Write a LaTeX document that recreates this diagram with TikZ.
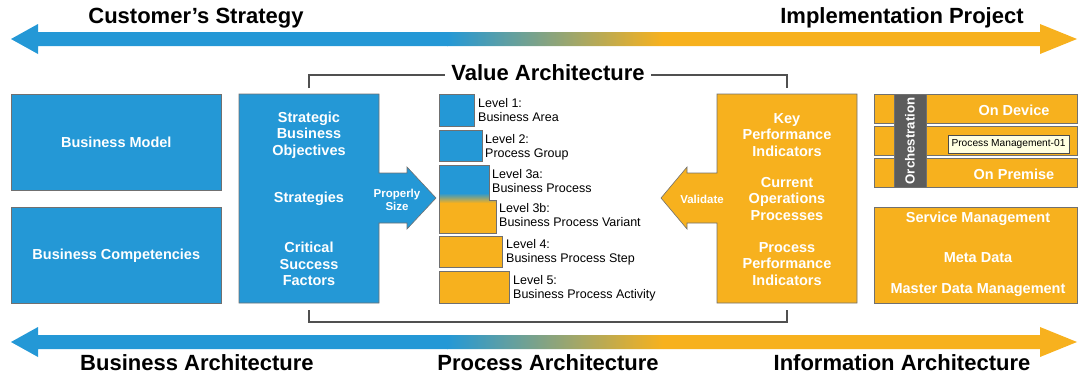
\documentclass[tikz,border=0pt]{standalone}
\usepackage{fontspec}
\setmainfont{Liberation Sans}
\definecolor{cblue}{HTML}{2498D6}
\definecolor{corange}{HTML}{F7B11E}
\definecolor{cedge}{HTML}{707070}
\definecolor{cgray}{HTML}{5C5C5C}
\definecolor{cline}{HTML}{505050}
\definecolor{ctip}{HTML}{FFFFE1}
\begin{document}
\begin{tikzpicture}[x=1pt,y=-1pt,
  bbox/.style={draw=cedge, line width=0.6pt, fill=cblue, text=white,
    font=\bfseries\fontsize{14.5}{16.5}\selectfont, align=center, inner sep=0pt, anchor=north west},
  obox/.style={bbox, fill=corange},
  wtxt/.style={text=white, font=\bfseries\fontsize{14.5}{16.5}\selectfont, align=center, inner sep=0pt},
  stxt/.style={text=white, font=\bfseries\fontsize{11.5}{13}\selectfont, align=center, inner sep=0pt},
  lvlbox/.style={draw=cedge, line width=0.6pt, inner sep=0pt, anchor=north west},
  lvl/.style={font=\fontsize{12.5}{14}\selectfont, align=left, anchor=north west, inner sep=0pt},
  big/.style={font=\bfseries\fontsize{22}{24}\selectfont, inner sep=0pt},
  bracket/.style={draw=cline, line width=1.2pt}
]
\useasboundingbox (0,0) rectangle (1078,375);

% ---------- top gradient arrow ----------
\begin{scope}
\clip (11,39) -- (38,24) -- (38,32) -- (1040,32) -- (1040,24) -- (1077,39)
      -- (1040,54) -- (1040,46) -- (38,46) -- (38,54) -- cycle;
\fill[cblue] (0,15) rectangle (447.5,60);
\shade[left color=cblue, right color=corange] (447,15) rectangle (663,60);
\fill[corange] (662.5,15) rectangle (1078,60);
\end{scope}
\node[big] (cs) at (196,18) {Customer’s Strategy};
\node[big] (ip) at (902,18) {Implementation Project};

% ---------- bottom gradient arrow ----------
\begin{scope}
\clip (11,342) -- (38,327) -- (38,335) -- (1040,335) -- (1040,327) -- (1077,342)
      -- (1040,357) -- (1040,349) -- (38,349) -- (38,357) -- cycle;
\fill[cblue] (0,320) rectangle (447.5,360);
\shade[left color=cblue, right color=corange] (447,320) rectangle (663,360);
\fill[corange] (662.5,320) rectangle (1078,360);
\end{scope}
\node[big] (ba) at (197,363) {Business Architecture};
\node[big] (pa) at (548,363) {Process Architecture};
\node[big] (ia) at (902,363) {Information Architecture};

% ---------- value architecture brackets ----------
\coordinate (tl) at (309,88);
\coordinate (tr) at (787,88);
\coordinate (bl) at (309,310);
\coordinate (br) at (787,310);
\draw[bracket] (tl) -- (309,75) -- (787,75) -- (tr);
\draw[bracket] (bl) -- (309,322) -- (787,322) -- (br);
\node[big, fill=white, inner xsep=6pt, inner ysep=2pt] (va) at (548,73) {Value Architecture};

% ---------- left boxes ----------
\node[bbox, minimum width=210pt, minimum height=96pt] (bm) at (11,94) {Business Model};
\node[bbox, minimum width=210pt, minimum height=96pt] (bc) at (11,207) {Business Competencies};

% strategic box with arrow
\path[draw=cedge, line width=0.6pt, fill=cblue]
  (239,94) -- (379,94) -- (379,173) -- (407,173) -- (407,167) -- (436,198)
  -- (407,229) -- (407,223) -- (379,223) -- (379,303) -- (239,303) -- cycle;
\node[wtxt] (sbo) at (309,135) {Strategic\\Business\\Objectives};
\node[wtxt] (str) at (309,199) {Strategies};
\node[wtxt] (csf) at (309,264) {Critical\\Success\\Factors};
\node[stxt] (ps) at (397,200) {Properly\\Size};

% ---------- levels ----------
\node[lvlbox, fill=cblue, minimum width=35pt, minimum height=32pt] (l1) at (439,94) {};
\node[lvlbox, fill=cblue, minimum width=43pt, minimum height=31pt] (l2) at (439,130) {};
\begin{scope}
\clip (439,165) -- (489,165) -- (489,200) -- (496,200) -- (496,233) -- (439,233) -- cycle;
\fill[cblue] (430,160) rectangle (500,193.5);
\shade[top color=cblue, bottom color=corange] (430,193) rectangle (500,203);
\fill[corange] (430,202.5) rectangle (500,240);
\end{scope}
\draw[draw=cedge, line width=0.6pt]
  (439,165) -- (489,165) -- (489,200) -- (496,200) -- (496,233) -- (439,233) -- cycle;
\node[lvlbox, fill=corange, minimum width=63pt, minimum height=31pt] (l4) at (439,236) {};
\node[lvlbox, fill=corange, minimum width=70pt, minimum height=32pt] (l5) at (439,271) {};

\node[lvl] (t1) at (478,98) {Level 1:\\Business Area};
\node[lvl] (t2) at (485,134) {Level 2:\\Process Group};
\node[lvl] (t3a) at (492,169) {Level 3a:\\Business Process};
\node[lvl] (t3b) at (499,203) {Level 3b:\\Business Process Variant};
\node[lvl] (t4) at (506,239) {Level 4:\\Business Process Step};
\node[lvl] (t5) at (513,275) {Level 5:\\Business Process Activity};

% ---------- KPI box with validate arrow ----------
\path[draw=cedge, line width=0.6pt, fill=corange]
  (717,94) -- (857,94) -- (857,303) -- (717,303) -- (717,223) -- (687,223)
  -- (687,229) -- (661,198) -- (687,167) -- (687,173) -- (717,173) -- cycle;
\node[wtxt] (kpi) at (787,135) {Key\\Performance\\Indicators};
\node[wtxt] (cop) at (787,199) {Current\\Operations\\Processes};
\node[wtxt] (ppi) at (787,264) {Process\\Performance\\Indicators};
\node[stxt] (val) at (702,199) {Validate};

% ---------- right group ----------
\node[obox, minimum width=203pt, minimum height=29pt] (r1) at (874,94) {};
\node[obox, minimum width=203pt, minimum height=29pt] (r2) at (874,126) {};
\node[obox, minimum width=203pt, minimum height=29pt] (r3) at (874,158) {};
\node[draw=cedge, line width=0.6pt, fill=cgray, minimum width=32pt, minimum height=93pt,
      inner sep=0pt, anchor=north west] (orch) at (894,94) {};
\node[wtxt, rotate=90, font=\bfseries\fontsize{13.2}{15}\selectfont] (orcht) at (910,141) {Orchestration};
\node[wtxt] (ondev) at (1014,110) {On Device};
\node[wtxt] (onprem) at (1014,174) {On Premise};
\node[draw=black!70, line width=0.5pt, fill=ctip, minimum width=121pt, minimum height=18pt,
      inner sep=0pt, font=\fontsize{10.2}{12}\selectfont] (tip) at (1008.5,144) {Process Management-01};

\node[obox, minimum width=203pt, minimum height=96pt] (r4) at (874,207) {};
\node[wtxt] (sm) at (978,219) {Service Management};
\node[wtxt] (md) at (978,258) {Meta Data};
\node[wtxt] (mdm) at (978,290) {Master Data Management};
\end{tikzpicture}
\end{document}
